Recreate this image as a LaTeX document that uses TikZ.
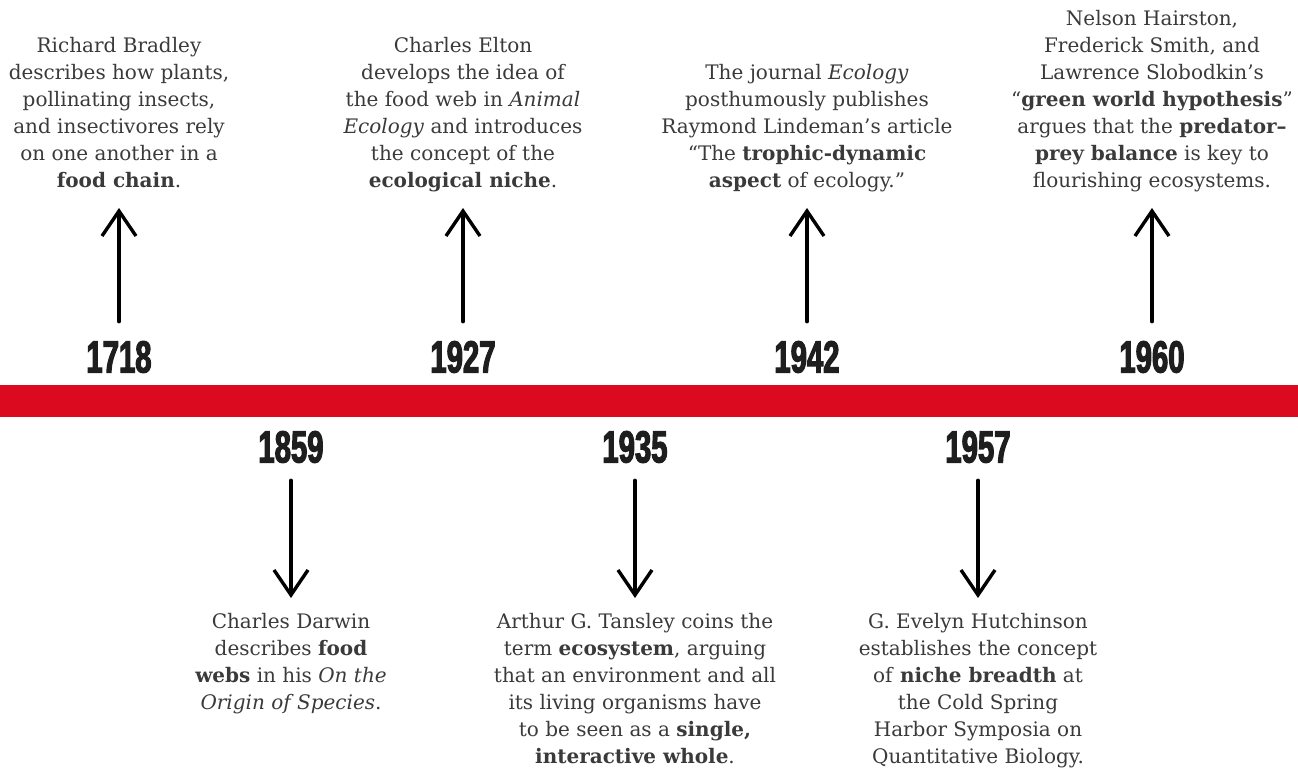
\documentclass[tikz,border=0pt]{standalone}
\usepackage{fontspec}
\setmainfont{DejaVu Serif}
\newfontfamily\yearfont[FakeStretch=0.65,BoldFeatures={FakeBold=2.5}]{Liberation Sans}
\usetikzlibrary{arrows.meta}

\definecolor{timeline}{HTML}{DC0A1E}
\definecolor{inkgray}{HTML}{3A3A3A}
\definecolor{yearink}{HTML}{1E1E1E}

\begin{document}
\begin{tikzpicture}[
x=0.5pt, y=-0.5pt, % 1 unit = 1 pixel of the layout, y grows downwards
year/.style={inner sep=0pt, text=yearink, font=\yearfont\bfseries\fontsize{22.5}{22.5}\selectfont},
event/.style={inner sep=0pt, align=center, text=inkgray, font=\fontsize{10}{13.5}\selectfont},
handarrow/.style={-{Straight Barb[length=12.5pt,width=17pt]}, line width=1.7pt, line cap=round},
uparrow/.style={handarrow, shorten <=9.5pt, shorten >=6pt},
downarrow/.style={handarrow, shorten <=8.5pt, shorten >=5.5pt}
]
\useasboundingbox (0,0) rectangle (1298,769);

% --- Timeline band ---
\fill[timeline] (0,385) rectangle (1298,417);

% --- Events above the band ---
\node[year] (y1718) at (119,357) {1718};
\node[event, anchor=south] (n1718) at (119,196) {Richard Bradley\\ describes how plants,\\ pollinating insects,\\ and insectivores rely\\ on one another in a\\ \textbf{food chain}.\strut};
\draw[uparrow] (y1718) -- (n1718);

\node[year] (y1927) at (463,357) {1927};
\node[event, anchor=south] (n1927) at (463,196) {Charles Elton\\ develops the idea of\\ the food web in \textit{Animal}\\ \textit{Ecology} and introduces\\ the concept of the\\ \textbf{ecological niche}.\strut};
\draw[uparrow] (y1927) -- (n1927);

\node[year] (y1942) at (807,357) {1942};
\node[event, anchor=south] (n1942) at (807,196) {The journal \textit{Ecology}\\ posthumously publishes\\ Raymond Lindeman’s article\\ “The \textbf{trophic-dynamic}\\ \textbf{aspect} of ecology.”\strut};
\draw[uparrow] (y1942) -- (n1942);

\node[year] (y1960) at (1152,357) {1960};
\node[event, anchor=south] (n1960) at (1152,196) {Nelson Hairston,\\ Frederick Smith, and\\ Lawrence Slobodkin’s\\ “\textbf{green world hypothesis}”\\ argues that the \textbf{predator–}\\ \textbf{prey balance} is key to\\ flourishing ecosystems.\strut};
\draw[uparrow] (y1960) -- (n1960);

% --- Events below the band ---
\node[year] (y1859) at (291,447) {1859};
\node[event, anchor=north] (n1859) at (291,609) {\strut Charles Darwin\\ describes \textbf{food}\\ \textbf{webs} in his \textit{On the}\\ \textit{Origin of Species}.};
\draw[downarrow] (y1859) -- (n1859);

\node[year] (y1935) at (635,447) {1935};
\node[event, anchor=north] (n1935) at (635,609) {\strut Arthur G. Tansley coins the\\ term \textbf{ecosystem}, arguing\\ that an environment and all\\ its living organisms have\\ to be seen as a \textbf{single,}\\ \textbf{interactive whole}.};
\draw[downarrow] (y1935) -- (n1935);

\node[year] (y1957) at (978,447) {1957};
\node[event, anchor=north] (n1957) at (978,609) {\strut G. Evelyn Hutchinson\\ establishes the concept\\ of \textbf{niche breadth} at\\ the Cold Spring\\ Harbor Symposia on\\ Quantitative Biology.};
\draw[downarrow] (y1957) -- (n1957);

\end{tikzpicture}
\end{document}
